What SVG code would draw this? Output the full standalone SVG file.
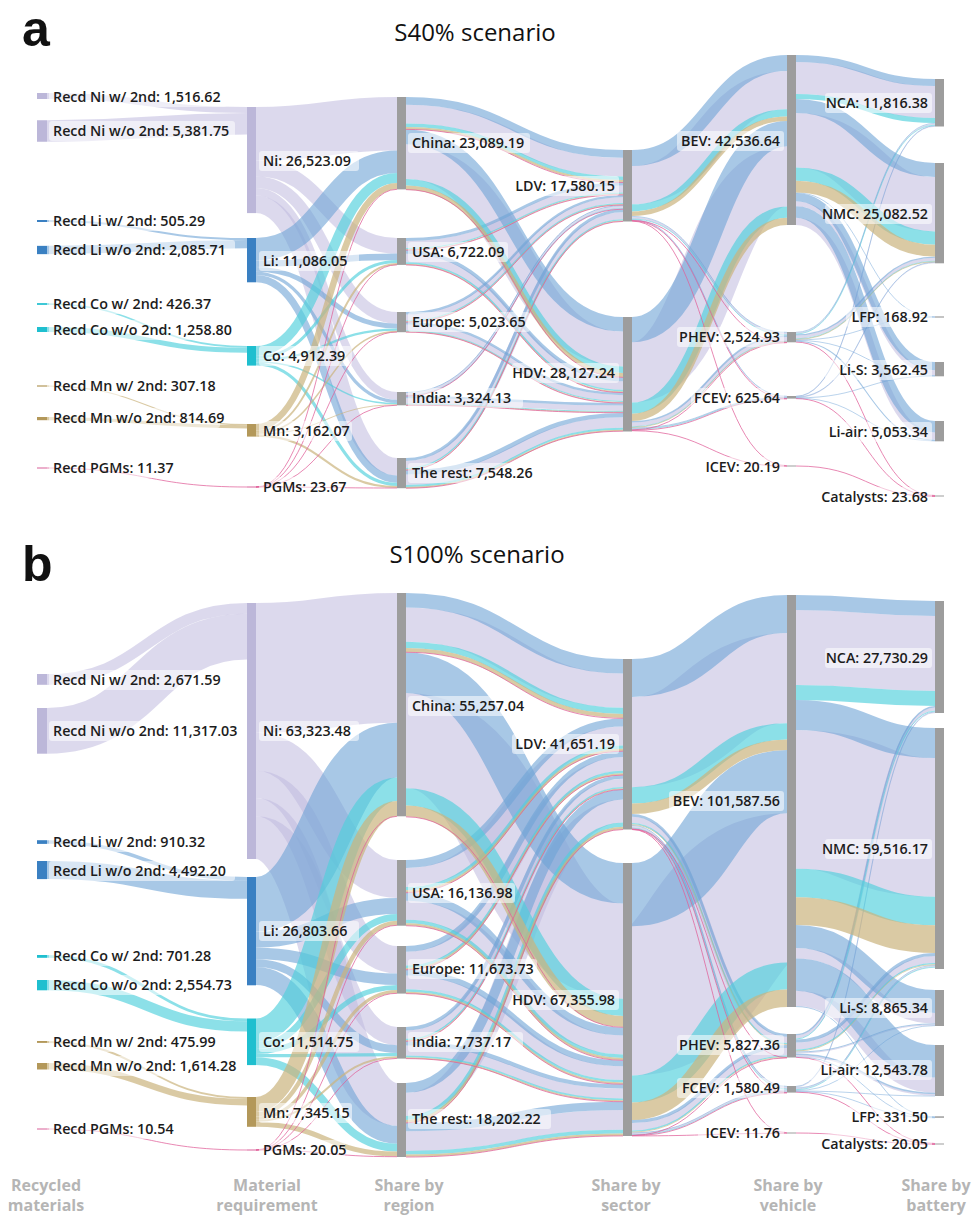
<svg xmlns="http://www.w3.org/2000/svg" width="974" height="1216" viewBox="0 0 974 1216">
<style>
.l path{fill:none}
.ni{stroke:#bfbade;stroke-opacity:.55}
.li{stroke:#6ea3d6;stroke-opacity:.6}
.co{stroke:#4fd0dc;stroke-opacity:.65}
.mn{stroke:#cbb47e;stroke-opacity:.7}
.pg{stroke:#e0609a;stroke-opacity:.75;stroke-width:1}
.t{font-family:"Open Sans","Liberation Sans",sans-serif;font-size:14.3px;font-weight:600;fill:#1c1c1c}
.e{text-anchor:end}
.bx{fill:#fff;fill-opacity:.55}
.g{fill:#9d9d9d}
.nN{fill:#bcb7d9}.nL{fill:#3a80c2}.nC{fill:#1fbfcf}.nM{fill:#b3985a}.nP{fill:#d9609a}
.ax{font-family:"Open Sans","Liberation Sans",sans-serif;font-size:16px;font-weight:700;fill:#b5b5b5;text-anchor:middle}
.pl{font-family:"Liberation Sans",Arial,sans-serif;font-size:50px;font-weight:700;fill:#111}
.ti{font-family:"Open Sans","Liberation Sans",sans-serif;font-size:24px;fill:#111;text-anchor:middle}
</style>
<rect width="974" height="1216" fill="#fff"/>
<g id="titles">
<text class="pl" x="22" y="46">a</text>
<text class="ti" x="475" y="41">S40% scenario</text>
<text class="pl" x="22" y="581">b</text>
<text class="ti" x="477" y="563">S100% scenario</text>
</g>
<g id="connectors" class="l">
<g id="links-a">
<g class="ni">
<path d="M47 96C147 96 147 110 247 110" stroke-width="6"/>
<path d="M47 131C147 131 147 123.8 247 123.8" stroke-width="21.5"/>
<path d="M256 133.8C326.5 133.8 326.5 123.8 397 123.8" stroke-width="53.6"/>
<path d="M256 168.4C326.5 168.4 326.5 245.8 397 245.8" stroke-width="15.6"/>
<path d="M256 182.05C326.5 182.05 326.5 317.85 397 317.85" stroke-width="11.7"/>
<path d="M256 191.75C326.5 191.75 326.5 395.85 397 395.85" stroke-width="7.7"/>
<path d="M256 204.35C326.5 204.35 326.5 466.75 397 466.75" stroke-width="17.5"/>
<path d="M406 114.15C514.5 114.15 514.5 167.15 623 167.15" stroke-width="18.7"/>
<path d="M406 161.65C514.5 161.65 514.5 349.05 623 349.05" stroke-width="34.9"/>
<path d="M406 244.4C514.5 244.4 514.5 189 623 189" stroke-width="7"/>
<path d="M406 258C514.5 258 514.5 385.5 623 385.5" stroke-width="8.6"/>
<path d="M406 317.3C514.5 317.3 514.5 200.2 623 200.2" stroke-width="5.8"/>
<path d="M406 327.4C514.5 327.4 514.5 398.1 623 398.1" stroke-width="5.8"/>
<path d="M406 394.15C514.5 394.15 514.5 207.25 623 207.25" stroke-width="2.3"/>
<path d="M406 401C514.5 401 514.5 408.2 623 408.2" stroke-width="5.4"/>
<path d="M406 464.4C514.5 464.4 514.5 215.7 623 215.7" stroke-width="7"/>
<path d="M406 479.75C514.5 479.75 514.5 422.55 623 422.55" stroke-width="10.5"/>
<path d="M632 185.15C709.5 185.15 709.5 90.15 787 90.15" stroke-width="38.3"/>
<path d="M632 217.75C709.5 217.75 709.5 333.75 787 333.75" stroke-width="1.9"/>
<path d="M632 220.1C709.5 220.1 709.5 396.9 787 396.9" stroke-width=".8"/>
<path d="M632 372.35C709.5 372.35 709.5 176.35 787 176.35" stroke-width="60.3"/>
<path d="M632 424.5C709.5 424.5 709.5 338.9 787 338.9" stroke-width="3.95"/>
<path d="M632 428.6C709.5 428.6 709.5 397.9 787 397.9" stroke-width=".9"/>
<path d="M796 78C865.5 78 865.5 102 935 102" stroke-width="32"/>
<path d="M796 140.2C865.5 140.2 865.5 204.2 935 204.2" stroke-width="54.4"/>
<path d="M796 203.8C865.5 203.8 865.5 372.7 935 372.7" stroke-width="5"/>
<path d="M796 221.3C865.5 221.3 865.5 436 935 436" stroke-width="7.2"/>
<path d="M796 333.2C865.5 333.2 865.5 124.3 935 124.3" stroke-width="1"/>
<path d="M796 337C865.5 337 865.5 259.3 935 259.3" stroke-width="3"/>
<path d="M796 396.6C865.5 396.6 865.5 126.3 935 126.3" stroke-width=".8"/>
<path d="M796 397.5C865.5 397.5 865.5 262.9 935 262.9" stroke-width=".8"/>
</g>
<g class="li">
<path d="M47 221C147 221 147 239 247 239" stroke-width="2"/>
<path d="M47 250C147 250 147 244.2 247 244.2" stroke-width="8.3"/>
<path d="M256 249.2C326.5 249.2 326.5 161.8 397 161.8" stroke-width="22.4"/>
<path d="M256 263.65C326.5 263.65 326.5 256.85 397 256.85" stroke-width="6.5"/>
<path d="M256 269.35C326.5 269.35 326.5 326.15 397 326.15" stroke-width="4.9"/>
<path d="M256 273.4C326.5 273.4 326.5 401.3 397 401.3" stroke-width="3.2"/>
<path d="M256 278.65C326.5 278.65 326.5 479.15 397 479.15" stroke-width="7.3"/>
<path d="M406 100.9C514.5 100.9 514.5 153.9 623 153.9" stroke-width="7.8"/>
<path d="M406 136.9C514.5 136.9 514.5 324.3 623 324.3" stroke-width="14.6"/>
<path d="M406 239.45C514.5 239.45 514.5 184.05 623 184.05" stroke-width="2.9"/>
<path d="M406 251.9C514.5 251.9 514.5 379.4 623 379.4" stroke-width="3.6"/>
<path d="M406 313.2C514.5 313.2 514.5 196.1 623 196.1" stroke-width="2.4"/>
<path d="M406 323.3C514.5 323.3 514.5 394 623 394" stroke-width="2.4"/>
<path d="M406 392.5C514.5 392.5 514.5 205.6 623 205.6" stroke-width="1"/>
<path d="M406 397.15C514.5 397.15 514.5 404.35 623 404.35" stroke-width="2.3"/>
<path d="M406 459.45C514.5 459.45 514.5 210.75 623 210.75" stroke-width="2.9"/>
<path d="M406 472.3C514.5 472.3 514.5 415.1 623 415.1" stroke-width="4.4"/>
<path d="M632 158C709.5 158 709.5 63 787 63" stroke-width="16"/>
<path d="M632 216.4C709.5 216.4 709.5 332.4 787 332.4" stroke-width=".8"/>
<path d="M632 219.6C709.5 219.6 709.5 396.3 787 396.3" stroke-width=".8"/>
<path d="M632 329.6C709.5 329.6 709.5 133.6 787 133.6" stroke-width="25.2"/>
<path d="M632 421.7C709.5 421.7 709.5 336.1 787 336.1" stroke-width="1.65"/>
<path d="M632 427.9C709.5 427.9 709.5 397.4 787 397.4" stroke-width=".8"/>
<path d="M796 58.5C865.5 58.5 865.5 82.5 935 82.5" stroke-width="7"/>
<path d="M796 106C865.5 106 865.5 170 935 170" stroke-width="14"/>
<path d="M796 192.8C865.5 192.8 865.5 316.7 935 316.7" stroke-width=".8"/>
<path d="M796 197.2C865.5 197.2 865.5 366.1 935 366.1" stroke-width="8.2"/>
<path d="M796 212C865.5 212 865.5 426.7 935 426.7" stroke-width="11.4"/>
<path d="M796 332.3C865.5 332.3 865.5 123.3 935 123.3" stroke-width=".8"/>
<path d="M796 334.9C865.5 334.9 865.5 257.15 935 257.15" stroke-width="1.3"/>
<path d="M796 339.9C865.5 339.9 865.5 317.3 935 317.3" stroke-width=".8"/>
<path d="M796 340.4C865.5 340.4 865.5 375.6 935 375.6" stroke-width=".8"/>
<path d="M796 341.3C865.5 341.3 865.5 440.2 935 440.2" stroke-width="1.1"/>
<path d="M796 396.2C865.5 396.2 865.5 125.8 935 125.8" stroke-width=".8"/>
<path d="M796 397C865.5 397 865.5 262.3 935 262.3" stroke-width=".8"/>
<path d="M796 397.9C865.5 397.9 865.5 376.1 935 376.1" stroke-width=".8"/>
<path d="M796 398.2C865.5 398.2 865.5 440.9 935 440.9" stroke-width=".8"/>
</g>
<g class="co">
<path d="M47 304C147 304 147 346.9 247 346.9" stroke-width="1.7"/>
<path d="M47 329.5C147 329.5 147 350.2 247 350.2" stroke-width="5"/>
<path d="M256 350.95C326.5 350.95 326.5 177.95 397 177.95" stroke-width="9.9"/>
<path d="M256 357.35C326.5 357.35 326.5 261.55 397 261.55" stroke-width="2.9"/>
<path d="M256 359.9C326.5 359.9 326.5 329.7 397 329.7" stroke-width="2.2"/>
<path d="M256 361.7C326.5 361.7 326.5 403.6 397 403.6" stroke-width="1.4"/>
<path d="M256 364C326.5 364 326.5 484.4 397 484.4" stroke-width="3.2"/>
<path d="M406 125.25C514.5 125.25 514.5 178.25 623 178.25" stroke-width="3.5"/>
<path d="M406 182.35C514.5 182.35 514.5 369.75 623 369.75" stroke-width="6.5"/>
<path d="M406 248.55C514.5 248.55 514.5 193.15 623 193.15" stroke-width="1.3"/>
<path d="M406 263.1C514.5 263.1 514.5 390.6 623 390.6" stroke-width="1.6"/>
<path d="M406 320.75C514.5 320.75 514.5 203.65 623 203.65" stroke-width="1.1"/>
<path d="M406 330.85C514.5 330.85 514.5 401.55 623 401.55" stroke-width="1.1"/>
<path d="M406 395.5C514.5 395.5 514.5 208.6 623 208.6" stroke-width=".8"/>
<path d="M406 404.2C514.5 404.2 514.5 411.4 623 411.4" stroke-width="1"/>
<path d="M406 468.55C514.5 468.55 514.5 219.85 623 219.85" stroke-width="1.3"/>
<path d="M406 485.95C514.5 485.95 514.5 428.75 623 428.75" stroke-width="1.9"/>
<path d="M632 207.85C709.5 207.85 709.5 112.85 787 112.85" stroke-width="7.1"/>
<path d="M632 219C709.5 219 709.5 335 787 335" stroke-width=".8"/>
<path d="M632 408.1C709.5 408.1 709.5 212.1 787 212.1" stroke-width="11.2"/>
<path d="M632 426.85C709.5 426.85 709.5 341.25 787 341.25" stroke-width=".8"/>
<path d="M632 429.2C709.5 429.2 709.5 398.3 787 398.3" stroke-width=".8"/>
<path d="M796 96.5C865.5 96.5 865.5 120.5 935 120.5" stroke-width="5"/>
<path d="M796 174.05C865.5 174.05 865.5 238.05 935 238.05" stroke-width="13.3"/>
<path d="M796 334C865.5 334 865.5 125.2 935 125.2" stroke-width=".8"/>
<path d="M796 338.85C865.5 338.85 865.5 261.15 935 261.15" stroke-width=".8"/>
</g>
<g class="mn">
<path d="M47 386C147 386 147 424.6 247 424.6" stroke-width="1.2"/>
<path d="M47 418.6C147 418.6 147 426.8 247 426.8" stroke-width="3.2"/>
<path d="M256 427.2C326.5 427.2 326.5 186.1 397 186.1" stroke-width="6.4"/>
<path d="M256 431.35C326.5 431.35 326.5 263.95 397 263.95" stroke-width="1.9"/>
<path d="M256 433C326.5 433 326.5 331.5 397 331.5" stroke-width="1.4"/>
<path d="M256 434.15C326.5 434.15 326.5 404.75 397 404.75" stroke-width=".9"/>
<path d="M256 435.65C326.5 435.65 326.5 487.05 397 487.05" stroke-width="2.1"/>
<path d="M406 128.1C514.5 128.1 514.5 181.1 623 181.1" stroke-width="2.2"/>
<path d="M406 187.7C514.5 187.7 514.5 375.1 623 375.1" stroke-width="4.2"/>
<path d="M406 249.6C514.5 249.6 514.5 194.2 623 194.2" stroke-width=".8"/>
<path d="M406 264.4C514.5 264.4 514.5 391.9 623 391.9" stroke-width="1"/>
<path d="M406 321.65C514.5 321.65 514.5 204.55 623 204.55" stroke-width=".8"/>
<path d="M406 331.75C514.5 331.75 514.5 402.45 623 402.45" stroke-width=".8"/>
<path d="M406 405C514.5 405 514.5 412.2 623 412.2" stroke-width=".8"/>
<path d="M406 469.6C514.5 469.6 514.5 220.9 623 220.9" stroke-width=".8"/>
<path d="M406 487.55C514.5 487.55 514.5 430.35 623 430.35" stroke-width="1.3"/>
<path d="M632 213.7C709.5 213.7 709.5 118.7 787 118.7" stroke-width="4.6"/>
<path d="M632 417.3C709.5 417.3 709.5 221.3 787 221.3" stroke-width="7.2"/>
<path d="M632 427.45C709.5 427.45 709.5 341.85 787 341.85" stroke-width=".8"/>
<path d="M796 186.6C865.5 186.6 865.5 250.6 935 250.6" stroke-width="11.8"/>
<path d="M796 339.45C865.5 339.45 865.5 261.75 935 261.75" stroke-width=".8"/>
</g>
<g class="pg">
<path d="M47 468C147 468 147 487 247 487"/>
<path d="M256 487C326.5 487 326.5 189.3 397 189.3"/>
<path d="M256 487C326.5 487 326.5 264.8 397 264.8"/>
<path d="M256 487C326.5 487 326.5 332 397 332"/>
<path d="M256 487C326.5 487 326.5 405.2 397 405.2"/>
<path d="M256 487C326.5 487 326.5 488 397 488"/>
<path d="M406 129.4C514.5 129.4 514.5 182.5 623 182.5"/>
<path d="M406 189.6C514.5 189.6 514.5 377.4 623 377.4"/>
<path d="M406 250.1C514.5 250.1 514.5 194.8 623 194.8"/>
<path d="M406 264.9C514.5 264.9 514.5 392.6 623 392.6"/>
<path d="M406 322.1C514.5 322.1 514.5 205 623 205"/>
<path d="M406 332.1C514.5 332.1 514.5 403 623 403"/>
<path d="M406 396C514.5 396 514.5 209.2 623 209.2"/>
<path d="M406 405.3C514.5 405.3 514.5 412.7 623 412.7"/>
<path d="M406 470.1C514.5 470.1 514.5 221.4 623 221.4"/>
<path d="M406 488.2C514.5 488.2 514.5 431.2 623 431.2"/>
<path d="M632 220.5C709.5 220.5 709.5 342.4 787 342.4"/>
<path d="M632 220.8C709.5 220.8 709.5 398.6 787 398.6"/>
<path d="M632 221.1C709.5 221.1 709.5 465.7 787 465.7"/>
<path d="M632 429.9C709.5 429.9 709.5 342.6 787 342.6"/>
<path d="M632 430.3C709.5 430.3 709.5 398.9 787 398.9"/>
<path d="M632 430.7C709.5 430.7 709.5 466.3 787 466.3"/>
<path d="M796 342.1C865.5 342.1 865.5 495.5 935 495.5"/>
<path d="M796 398.6C865.5 398.6 865.5 496 935 496"/>
<path d="M796 466C865.5 466 865.5 496.5 935 496.5"/>
</g>
</g>
<g id="links-b">
<g class="ni">
<path d="M47 679.5C147 679.5 147 608.4 247 608.4" stroke-width="10.8"/>
<path d="M47 730.85C147 730.85 147 636.65 247 636.65" stroke-width="45.7"/>
<path d="M256 667.9C326.5 667.9 326.5 657.9 397 657.9" stroke-width="129.8"/>
<path d="M256 751.75C326.5 751.75 326.5 878.95 397 878.95" stroke-width="37.9"/>
<path d="M256 784.4C326.5 784.4 326.5 959.7 397 959.7" stroke-width="27.4"/>
<path d="M256 807.2C326.5 807.2 326.5 1036.1 397 1036.1" stroke-width="18.2"/>
<path d="M256 837.7C326.5 837.7 326.5 1104.4 397 1104.4" stroke-width="42.8"/>
<path d="M406 624.65C514.5 624.65 514.5 690.65 623 690.65" stroke-width="34.3"/>
<path d="M406 740.55C514.5 740.55 514.5 951.05 623 951.05" stroke-width="95.3"/>
<path d="M406 877.45C514.5 877.45 514.5 735.95 623 735.95" stroke-width="18.9"/>
<path d="M406 910.3C514.5 910.3 514.5 1044.9 623 1044.9" stroke-width="19"/>
<path d="M406 958.65C514.5 958.65 514.5 763.95 623 763.95" stroke-width="13.7"/>
<path d="M406 982.45C514.5 982.45 514.5 1073.05 623 1073.05" stroke-width="13.7"/>
<path d="M406 1034.6C514.5 1034.6 514.5 782.8 623 782.8" stroke-width="8.2"/>
<path d="M406 1050.5C514.5 1050.5 514.5 1093.5 623 1093.5" stroke-width="10"/>
<path d="M406 1104.35C514.5 1104.35 514.5 810.95 623 810.95" stroke-width="23.1"/>
<path d="M406 1141.05C514.5 1141.05 514.5 1119.95 623 1119.95" stroke-width="19.7"/>
<path d="M632 742.15C709.5 742.15 709.5 678.15 787 678.15" stroke-width="90.1"/>
<path d="M632 819.9C709.5 819.9 709.5 1039.9 787 1039.9" stroke-width="6.4"/>
<path d="M632 826.9C709.5 826.9 709.5 1087.9 787 1087.9" stroke-width="2"/>
<path d="M632 1000.85C709.5 1000.85 709.5 887.85 787 887.85" stroke-width="149.3"/>
<path d="M632 1126.75C709.5 1126.75 709.5 1051.75 787 1051.75" stroke-width="7.3"/>
<path d="M632 1133.75C709.5 1133.75 709.5 1091.1 787 1091.1" stroke-width="1.7"/>
<path d="M796 647.5C865.5 647.5 865.5 653.5 935 653.5" stroke-width="75"/>
<path d="M796 799.35C865.5 799.35 865.5 827.35 935 827.35" stroke-width="138.7"/>
<path d="M796 953.2C865.5 953.2 865.5 1018.2 935 1018.2" stroke-width="10.4"/>
<path d="M796 998.45C865.5 998.45 865.5 1085.05 935 1085.05" stroke-width="15.3"/>
<path d="M796 1037C865.5 1037 865.5 709 935 709" stroke-width="3.2"/>
<path d="M796 1046C865.5 1046 865.5 959.5 935 959.5" stroke-width="7"/>
<path d="M796 1053C865.5 1053 865.5 1024.9 935 1024.9" stroke-width="1"/>
<path d="M796 1055.75C865.5 1055.75 865.5 1094.95 935 1094.95" stroke-width="1.5"/>
<path d="M796 1087.1C865.5 1087.1 865.5 712.6 935 712.6" stroke-width=".8"/>
<path d="M796 1088.8C865.5 1088.8 865.5 966.5 935 966.5" stroke-width="1.2"/>
</g>
<g class="li">
<path d="M47 842C147 842 147 878.85 247 878.85" stroke-width="3.7"/>
<path d="M47 870C147 870 147 889.75 247 889.75" stroke-width="18.1"/>
<path d="M256 904.35C326.5 904.35 326.5 750.15 397 750.15" stroke-width="54.7"/>
<path d="M256 939.7C326.5 939.7 326.5 905.9 397 905.9" stroke-width="16"/>
<path d="M256 953.5C326.5 953.5 326.5 979.2 397 979.2" stroke-width="11.6"/>
<path d="M256 963.15C326.5 963.15 326.5 1049.05 397 1049.05" stroke-width="7.7"/>
<path d="M256 976C326.5 976 326.5 1134.8 397 1134.8" stroke-width="18"/>
<path d="M406 600.25C514.5 600.25 514.5 666.25 623 666.25" stroke-width="14.5"/>
<path d="M406 672.7C514.5 672.7 514.5 883.2 623 883.2" stroke-width="40.4"/>
<path d="M406 864C514.5 864 514.5 722.5 623 722.5" stroke-width="8"/>
<path d="M406 896.8C514.5 896.8 514.5 1031.4 623 1031.4" stroke-width="8"/>
<path d="M406 948.9C514.5 948.9 514.5 754.2 623 754.2" stroke-width="5.8"/>
<path d="M406 972.7C514.5 972.7 514.5 1063.3 623 1063.3" stroke-width="5.8"/>
<path d="M406 1028.75C514.5 1028.75 514.5 776.95 623 776.95" stroke-width="3.5"/>
<path d="M406 1043.4C514.5 1043.4 514.5 1086.4 623 1086.4" stroke-width="4.2"/>
<path d="M406 1087.9C514.5 1087.9 514.5 794.5 623 794.5" stroke-width="9.8"/>
<path d="M406 1127.05C514.5 1127.05 514.5 1105.95 623 1105.95" stroke-width="8.3"/>
<path d="M632 678.05C709.5 678.05 709.5 614.05 787 614.05" stroke-width="38.1"/>
<path d="M632 815.35C709.5 815.35 709.5 1035.35 787 1035.35" stroke-width="2.7"/>
<path d="M632 825.45C709.5 825.45 709.5 1086.45 787 1086.45" stroke-width=".9"/>
<path d="M632 894.6C709.5 894.6 709.5 781.6 787 781.6" stroke-width="63.2"/>
<path d="M632 1121.55C709.5 1121.55 709.5 1046.55 787 1046.55" stroke-width="3.1"/>
<path d="M632 1132.85C709.5 1132.85 709.5 1089.9 787 1089.9" stroke-width=".8"/>
<path d="M796 602.5C865.5 602.5 865.5 608.5 935 608.5" stroke-width="15"/>
<path d="M796 715C865.5 715 865.5 743 935 743" stroke-width="30"/>
<path d="M796 936.5C865.5 936.5 865.5 1001.5 935 1001.5" stroke-width="23"/>
<path d="M796 974.6C865.5 974.6 865.5 1061.2 935 1061.2" stroke-width="32.4"/>
<path d="M796 1006.55C865.5 1006.55 865.5 1116.8 935 1116.8" stroke-width=".9"/>
<path d="M796 1034.7C865.5 1034.7 865.5 706.7 935 706.7" stroke-width="1.4"/>
<path d="M796 1041C865.5 1041 865.5 954.5 935 954.5" stroke-width="3"/>
<path d="M796 1052C865.5 1052 865.5 1023.9 935 1023.9" stroke-width="1"/>
<path d="M796 1054.25C865.5 1054.25 865.5 1093.45 935 1093.45" stroke-width="1.5"/>
<path d="M796 1056.8C865.5 1056.8 865.5 1117.4 935 1117.4" stroke-width=".8"/>
<path d="M796 1086.4C865.5 1086.4 865.5 711.9 935 711.9" stroke-width=".8"/>
<path d="M796 1087.9C865.5 1087.9 865.5 965.5 935 965.5" stroke-width=".8"/>
<path d="M796 1090.5C865.5 1090.5 865.5 1025.6 935 1025.6" stroke-width=".8"/>
<path d="M796 1091.1C865.5 1091.1 865.5 1096 935 1096" stroke-width=".8"/>
<path d="M796 1091.6C865.5 1091.6 865.5 1117.8 935 1117.8" stroke-width=".8"/>
</g>
<g class="co">
<path d="M47 956.4C147 956.4 147 1019.9 247 1019.9" stroke-width="2.8"/>
<path d="M47 985.15C147 985.15 147 1026.45 247 1026.45" stroke-width="10.3"/>
<path d="M256 1030.3C326.5 1030.3 326.5 789.3 397 789.3" stroke-width="23.6"/>
<path d="M256 1045.55C326.5 1045.55 326.5 917.35 397 917.35" stroke-width="6.9"/>
<path d="M256 1051.5C326.5 1051.5 326.5 987.5 397 987.5" stroke-width="5"/>
<path d="M256 1055.65C326.5 1055.65 326.5 1054.55 397 1054.55" stroke-width="3.3"/>
<path d="M256 1061.2C326.5 1061.2 326.5 1147.7 397 1147.7" stroke-width="7.8"/>
<path d="M406 644.9C514.5 644.9 514.5 710.9 623 710.9" stroke-width="6.2"/>
<path d="M406 796.85C514.5 796.85 514.5 1007.35 623 1007.35" stroke-width="17.3"/>
<path d="M406 888.6C514.5 888.6 514.5 747.1 623 747.1" stroke-width="3.4"/>
<path d="M406 921.55C514.5 921.55 514.5 1056.15 623 1056.15" stroke-width="3.5"/>
<path d="M406 966.75C514.5 966.75 514.5 772.05 623 772.05" stroke-width="2.5"/>
<path d="M406 990.55C514.5 990.55 514.5 1081.15 623 1081.15" stroke-width="2.5"/>
<path d="M406 1039.45C514.5 1039.45 514.5 787.65 623 787.65" stroke-width="1.5"/>
<path d="M406 1056.4C514.5 1056.4 514.5 1099.4 623 1099.4" stroke-width="1.8"/>
<path d="M406 1118C514.5 1118 514.5 824.6 623 824.6" stroke-width="4.2"/>
<path d="M406 1152.7C514.5 1152.7 514.5 1131.6 623 1131.6" stroke-width="3.6"/>
<path d="M632 795.4C709.5 795.4 709.5 731.4 787 731.4" stroke-width="16.4"/>
<path d="M632 823.7C709.5 823.7 709.5 1043.7 787 1043.7" stroke-width="1.2"/>
<path d="M632 828.1C709.5 828.1 709.5 1089.1 787 1089.1" stroke-width=".8"/>
<path d="M632 1089.05C709.5 1089.05 709.5 976.05 787 976.05" stroke-width="27.1"/>
<path d="M632 1131.05C709.5 1131.05 709.5 1056.05 787 1056.05" stroke-width="1.3"/>
<path d="M632 1134.75C709.5 1134.75 709.5 1092.1 787 1092.1" stroke-width=".8"/>
<path d="M796 692.5C865.5 692.5 865.5 698.5 935 698.5" stroke-width="15"/>
<path d="M796 882.95C865.5 882.95 865.5 910.95 935 910.95" stroke-width="28.5"/>
<path d="M796 1039.05C865.5 1039.05 865.5 711.05 935 711.05" stroke-width=".9"/>
<path d="M796 1050.1C865.5 1050.1 865.5 963.6 935 963.6" stroke-width="1.2"/>
<path d="M796 1089.6C865.5 1089.6 865.5 967.3 935 967.3" stroke-width=".8"/>
</g>
<g class="mn">
<path d="M47 1042C147 1042 147 1097.95 247 1097.95" stroke-width="1.9"/>
<path d="M47 1066.25C147 1066.25 147 1102.15 247 1102.15" stroke-width="6.5"/>
<path d="M256 1104.55C326.5 1104.55 326.5 808.65 397 808.65" stroke-width="15.1"/>
<path d="M256 1114.3C326.5 1114.3 326.5 923 397 923" stroke-width="4.4"/>
<path d="M256 1118.1C326.5 1118.1 326.5 991.6 397 991.6" stroke-width="3.2"/>
<path d="M256 1120.75C326.5 1120.75 326.5 1057.25 397 1057.25" stroke-width="2.1"/>
<path d="M256 1124.3C326.5 1124.3 326.5 1154.1 397 1154.1" stroke-width="5"/>
<path d="M406 650C514.5 650 514.5 716 623 716" stroke-width="4"/>
<path d="M406 811.05C514.5 811.05 514.5 1021.55 623 1021.55" stroke-width="11.1"/>
<path d="M406 891.4C514.5 891.4 514.5 749.9 623 749.9" stroke-width="2.2"/>
<path d="M406 924.4C514.5 924.4 514.5 1059 623 1059" stroke-width="2.2"/>
<path d="M406 968.8C514.5 968.8 514.5 774.1 623 774.1" stroke-width="1.6"/>
<path d="M406 992.6C514.5 992.6 514.5 1083.2 623 1083.2" stroke-width="1.6"/>
<path d="M406 1040.65C514.5 1040.65 514.5 788.85 623 788.85" stroke-width=".9"/>
<path d="M406 1057.9C514.5 1057.9 514.5 1100.9 623 1100.9" stroke-width="1.2"/>
<path d="M406 1121.4C514.5 1121.4 514.5 828 623 828" stroke-width="2.6"/>
<path d="M406 1155.65C514.5 1155.65 514.5 1134.55 623 1134.55" stroke-width="2.3"/>
<path d="M632 808.8C709.5 808.8 709.5 744.8 787 744.8" stroke-width="10.4"/>
<path d="M632 824.65C709.5 824.65 709.5 1044.65 787 1044.65" stroke-width=".8"/>
<path d="M632 1111.3C709.5 1111.3 709.5 998.3 787 998.3" stroke-width="17.4"/>
<path d="M632 1132.1C709.5 1132.1 709.5 1057.1 787 1057.1" stroke-width=".8"/>
<path d="M796 911.1C865.5 911.1 865.5 939.1 935 939.1" stroke-width="27.8"/>
<path d="M796 1051.1C865.5 1051.1 865.5 964.6 935 964.6" stroke-width=".8"/>
</g>
<g class="pg">
<path d="M47 1129C147 1129 147 1150 247 1150"/>
<path d="M256 1150C326.5 1150 326.5 816.3 397 816.3"/>
<path d="M256 1150C326.5 1150 326.5 925.3 397 925.3"/>
<path d="M256 1150C326.5 1150 326.5 993.3 397 993.3"/>
<path d="M256 1150C326.5 1150 326.5 1058.4 397 1058.4"/>
<path d="M256 1150C326.5 1150 326.5 1156.7 397 1156.7"/>
<path d="M406 652.3C514.5 652.3 514.5 718.3 623 718.3"/>
<path d="M406 816.8C514.5 816.8 514.5 1027.3 623 1027.3"/>
<path d="M406 892.7C514.5 892.7 514.5 751.2 623 751.2"/>
<path d="M406 925.7C514.5 925.7 514.5 1060.3 623 1060.3"/>
<path d="M406 969.8C514.5 969.8 514.5 775.1 623 775.1"/>
<path d="M406 993.6C514.5 993.6 514.5 1084.2 623 1084.2"/>
<path d="M406 1041.3C514.5 1041.3 514.5 789.5 623 789.5"/>
<path d="M406 1058.6C514.5 1058.6 514.5 1101.7 623 1101.7"/>
<path d="M406 1122.9C514.5 1122.9 514.5 829.5 623 829.5"/>
<path d="M406 1157C514.5 1157 514.5 1135.9 623 1135.9"/>
<path d="M632 828.9C709.5 828.9 709.5 1057.6 787 1057.6"/>
<path d="M632 829.2C709.5 829.2 709.5 1092.6 787 1092.6"/>
<path d="M632 829.5C709.5 829.5 709.5 1132.7 787 1132.7"/>
<path d="M632 1135.3C709.5 1135.3 709.5 1057.9 787 1057.9"/>
<path d="M632 1135.6C709.5 1135.6 709.5 1092.9 787 1092.9"/>
<path d="M632 1135.9C709.5 1135.9 709.5 1133.3 787 1133.3"/>
<path d="M796 1057.3C865.5 1057.3 865.5 1143.5 935 1143.5"/>
<path d="M796 1092.2C865.5 1092.2 865.5 1144 935 1144"/>
<path d="M796 1133C865.5 1133 865.5 1144.5 935 1144.5"/>
</g>
</g>
</g>
<g id="nodes-a">
<g id="a-recd-ni-w2"><rect class="nN" x="37" y="93" width="10" height="6"/><rect class="bx" x="49" y="87" width="178" height="20" rx="3"/><text class="t" x="53" y="102">Recd Ni w/ 2nd: 1,516.62</text></g>
<g id="a-recd-ni-wo"><rect class="nN" x="37" y="120.25" width="10" height="21.5"/><rect class="bx" x="49" y="121" width="186" height="20" rx="3"/><text class="t" x="53" y="136">Recd Ni w/o 2nd: 5,381.75</text></g>
<g id="a-recd-li-w2"><rect class="nL" x="37" y="220" width="10" height="2"/><rect class="bx" x="49" y="211" width="164" height="20" rx="3"/><text class="t" x="53" y="226">Recd Li w/ 2nd: 505.29</text></g>
<g id="a-recd-li-wo"><rect class="nL" x="37" y="245.85" width="10" height="8.3"/><rect class="bx" x="49" y="240" width="186" height="20" rx="3"/><text class="t" x="53" y="255">Recd Li w/o 2nd: 2,085.71</text></g>
<g id="a-recd-co-w2"><rect class="nC" x="37" y="303.15" width="10" height="1.7"/><rect class="bx" x="49" y="294" width="164" height="20" rx="3"/><text class="t" x="53" y="309">Recd Co w/ 2nd: 426.37</text></g>
<g id="a-recd-co-wo"><rect class="nC" x="37" y="327" width="10" height="5"/><rect class="bx" x="49" y="320" width="186" height="20" rx="3"/><text class="t" x="53" y="335">Recd Co w/o 2nd: 1,258.80</text></g>
<g id="a-recd-mn-w2"><rect class="nM" x="37" y="385.4" width="10" height="1.2"/><rect class="bx" x="49" y="376" width="164" height="20" rx="3"/><text class="t" x="53" y="391">Recd Mn w/ 2nd: 307.18</text></g>
<g id="a-recd-mn-wo"><rect class="nM" x="37" y="417" width="10" height="3.2"/><rect class="bx" x="49" y="408" width="171" height="20" rx="3"/><text class="t" x="53" y="423">Recd Mn w/o 2nd: 814.69</text></g>
<g id="a-recd-pgm"><rect class="nP" x="37" y="467.5" width="10" height="1"/><rect class="bx" x="49" y="458" width="122" height="20" rx="3"/><text class="t" x="53" y="473">Recd PGMs: 11.37</text></g>
<g id="a-ni"><rect class="nN" x="247" y="107" width="9" height="106.1"/><rect class="bx" x="259" y="151" width="100" height="20" rx="3"/><text class="t" x="263" y="166">Ni: 26,523.09</text></g>
<g id="a-li"><rect class="nL" x="247" y="238" width="9" height="44.3"/><rect class="bx" x="259" y="251" width="100" height="20" rx="3"/><text class="t" x="263" y="266">Li: 11,086.05</text></g>
<g id="a-co"><rect class="nC" x="247" y="346" width="9" height="19.6"/><rect class="bx" x="259" y="346" width="93" height="20" rx="3"/><text class="t" x="263" y="361">Co: 4,912.39</text></g>
<g id="a-mn"><rect class="nM" x="247" y="424" width="9" height="12.6"/><rect class="bx" x="259" y="421" width="93" height="20" rx="3"/><text class="t" x="263" y="436">Mn: 3,162.07</text></g>
<g id="a-pgm"><rect class="nP" x="247" y="486.5" width="9" height="1"/><rect class="bx" x="259" y="477" width="86" height="20" rx="3"/><text class="t" x="263" y="492">PGMs: 23.67</text></g>
<g id="a-china"><rect class="g" x="397" y="97" width="9" height="92.4"/><rect class="bx" x="408" y="133" width="122" height="20" rx="3"/><text class="t" x="412" y="148">China: 23,089.19</text></g>
<g id="a-usa"><rect class="g" x="397" y="238" width="9" height="26.9"/><rect class="bx" x="408" y="242" width="100" height="20" rx="3"/><text class="t" x="412" y="257">USA: 6,722.09</text></g>
<g id="a-europe"><rect class="g" x="397" y="312" width="9" height="20.2"/><rect class="bx" x="408" y="312" width="122" height="20" rx="3"/><text class="t" x="412" y="327">Europe: 5,023.65</text></g>
<g id="a-india"><rect class="g" x="397" y="392" width="9" height="13.3"/><rect class="bx" x="408" y="388" width="115" height="20" rx="3"/><text class="t" x="412" y="403">India: 3,324.13</text></g>
<g id="a-rest"><rect class="g" x="397" y="458" width="9" height="30.2"/><rect class="bx" x="408" y="463" width="136" height="20" rx="3"/><text class="t" x="412" y="478">The rest: 7,548.26</text></g>
<g id="a-ldv"><rect class="g" x="623" y="150" width="9" height="71.5"/><rect class="bx" x="512" y="176" width="107" height="20" rx="3"/><text class="t e" x="615" y="191">LDV: 17,580.15</text></g>
<g id="a-hdv"><rect class="g" x="623" y="317" width="9" height="114.5"/><rect class="bx" x="512" y="363" width="107" height="20" rx="3"/><text class="t e" x="615" y="378">HDV: 28,127.24</text></g>
<g id="a-bev"><rect class="g" x="787" y="55" width="9" height="170"/><rect class="bx" x="677" y="131" width="107" height="20" rx="3"/><text class="t e" x="780" y="146">BEV: 42,536.64</text></g>
<g id="a-phev"><rect class="g" x="787" y="332" width="9" height="10.3"/><rect class="bx" x="677" y="327" width="107" height="20" rx="3"/><text class="t e" x="780" y="342">PHEV: 2,524.93</text></g>
<g id="a-fcev"><rect class="g" x="787" y="396" width="9" height="2.6"/><rect class="bx" x="691" y="388" width="93" height="20" rx="3"/><text class="t e" x="780" y="403">FCEV: 625.64</text></g>
<g id="a-icev"><rect class="g" x="787" y="465.5" width="9" height="1"/><rect class="bx" x="698" y="457" width="86" height="20" rx="3"/><text class="t e" x="780" y="472">ICEV: 20.19</text></g>
<g id="a-nca"><rect class="g" x="935" y="79" width="9" height="47.5"/><rect class="bx" x="825" y="93" width="107" height="20" rx="3"/><text class="t e" x="928" y="108">NCA: 11,816.38</text></g>
<g id="a-nmc"><rect class="g" x="935" y="163" width="9" height="100.3"/><rect class="bx" x="825" y="204" width="107" height="20" rx="3"/><text class="t e" x="928" y="219">NMC: 25,082.52</text></g>
<g id="a-lfp"><rect class="g" x="935" y="316.4" width="9" height="1.2"/><rect class="bx" x="846" y="307" width="86" height="20" rx="3"/><text class="t e" x="928" y="322">LFP: 168.92</text></g>
<g id="a-lis"><rect class="g" x="935" y="362" width="9" height="14.3"/><rect class="bx" x="825" y="360" width="107" height="20" rx="3"/><text class="t e" x="928" y="375">Li-S: 3,562.45</text></g>
<g id="a-liair"><rect class="g" x="935" y="421" width="9" height="20.3"/><rect class="bx" x="810" y="422" width="122" height="20" rx="3"/><text class="t e" x="928" y="437">Li-air: 5,053.34</text></g>
<g id="a-cat"><rect class="g" x="935" y="495.5" width="9" height="1"/><rect class="bx" x="810" y="487" width="122" height="20" rx="3"/><text class="t e" x="928" y="502">Catalysts: 23.68</text></g>
</g>
<g id="nodes-b">
<g id="b-recd-ni-w2"><rect class="nN" x="37" y="674" width="10" height="10.8"/><rect class="bx" x="49" y="670" width="178" height="20" rx="3"/><text class="t" x="53" y="685">Recd Ni w/ 2nd: 2,671.59</text></g>
<g id="b-recd-ni-wo"><rect class="nN" x="37" y="708" width="10" height="45.7"/><rect class="bx" x="49" y="721" width="193" height="20" rx="3"/><text class="t" x="53" y="736">Recd Ni w/o 2nd: 11,317.03</text></g>
<g id="b-recd-li-w2"><rect class="nL" x="37" y="840.2" width="10" height="3.7"/><rect class="bx" x="49" y="832" width="164" height="20" rx="3"/><text class="t" x="53" y="847">Recd Li w/ 2nd: 910.32</text></g>
<g id="b-recd-li-wo"><rect class="nL" x="37" y="861" width="10" height="18.1"/><rect class="bx" x="49" y="861" width="186" height="20" rx="3"/><text class="t" x="53" y="876">Recd Li w/o 2nd: 4,492.20</text></g>
<g id="b-recd-co-w2"><rect class="nC" x="37" y="955" width="10" height="2.8"/><rect class="bx" x="49" y="946" width="164" height="20" rx="3"/><text class="t" x="53" y="961">Recd Co w/ 2nd: 701.28</text></g>
<g id="b-recd-co-wo"><rect class="nC" x="37" y="980" width="10" height="10.3"/><rect class="bx" x="49" y="975" width="186" height="20" rx="3"/><text class="t" x="53" y="990">Recd Co w/o 2nd: 2,554.73</text></g>
<g id="b-recd-mn-w2"><rect class="nM" x="37" y="1041" width="10" height="1.9"/><rect class="bx" x="49" y="1032" width="164" height="20" rx="3"/><text class="t" x="53" y="1047">Recd Mn w/ 2nd: 475.99</text></g>
<g id="b-recd-mn-wo"><rect class="nM" x="37" y="1063" width="10" height="6.5"/><rect class="bx" x="49" y="1056" width="186" height="20" rx="3"/><text class="t" x="53" y="1071">Recd Mn w/o 2nd: 1,614.28</text></g>
<g id="b-recd-pgm"><rect class="nP" x="37" y="1128.5" width="10" height="1"/><rect class="bx" x="49" y="1119" width="122" height="20" rx="3"/><text class="t" x="53" y="1134">Recd PGMs: 10.54</text></g>
<g id="b-ni"><rect class="nN" x="247" y="603" width="9" height="256"/><rect class="bx" x="259" y="721" width="100" height="20" rx="3"/><text class="t" x="263" y="736">Ni: 63,323.48</text></g>
<g id="b-li"><rect class="nL" x="247" y="877" width="9" height="108.3"/><rect class="bx" x="259" y="921" width="100" height="20" rx="3"/><text class="t" x="263" y="936">Li: 26,803.66</text></g>
<g id="b-co"><rect class="nC" x="247" y="1018.5" width="9" height="46.6"/><rect class="bx" x="259" y="1032" width="100" height="20" rx="3"/><text class="t" x="263" y="1047">Co: 11,514.75</text></g>
<g id="b-mn"><rect class="nM" x="247" y="1097" width="9" height="29.8"/><rect class="bx" x="259" y="1103" width="93" height="20" rx="3"/><text class="t" x="263" y="1118">Mn: 7,345.15</text></g>
<g id="b-pgm"><rect class="nP" x="247" y="1149.5" width="9" height="1"/><rect class="bx" x="259" y="1140" width="86" height="20" rx="3"/><text class="t" x="263" y="1155">PGMs: 20.05</text></g>
<g id="b-china"><rect class="g" x="397" y="593" width="9" height="223.3"/><rect class="bx" x="408" y="696" width="122" height="20" rx="3"/><text class="t" x="412" y="711">China: 55,257.04</text></g>
<g id="b-usa"><rect class="g" x="397" y="860" width="9" height="65.7"/><rect class="bx" x="408" y="883" width="107" height="20" rx="3"/><text class="t" x="412" y="898">USA: 16,136.98</text></g>
<g id="b-europe"><rect class="g" x="397" y="946" width="9" height="47.6"/><rect class="bx" x="408" y="959" width="129" height="20" rx="3"/><text class="t" x="412" y="974">Europe: 11,673.73</text></g>
<g id="b-india"><rect class="g" x="397" y="1027" width="9" height="31.6"/><rect class="bx" x="408" y="1032" width="115" height="20" rx="3"/><text class="t" x="412" y="1047">India: 7,737.17</text></g>
<g id="b-rest"><rect class="g" x="397" y="1083" width="9" height="74"/><rect class="bx" x="408" y="1109" width="143" height="20" rx="3"/><text class="t" x="412" y="1124">The rest: 18,202.22</text></g>
<g id="b-ldv"><rect class="g" x="623" y="659" width="9" height="170.5"/><rect class="bx" x="512" y="734" width="107" height="20" rx="3"/><text class="t e" x="615" y="749">LDV: 41,651.19</text></g>
<g id="b-hdv"><rect class="g" x="623" y="863" width="9" height="273"/><rect class="bx" x="512" y="990" width="107" height="20" rx="3"/><text class="t e" x="615" y="1005">HDV: 67,355.98</text></g>
<g id="b-bev"><rect class="g" x="787" y="595" width="9" height="412"/><rect class="bx" x="669" y="791" width="115" height="20" rx="3"/><text class="t e" x="780" y="806">BEV: 101,587.56</text></g>
<g id="b-phev"><rect class="g" x="787" y="1034" width="9" height="23.5"/><rect class="bx" x="677" y="1035" width="107" height="20" rx="3"/><text class="t e" x="780" y="1050">PHEV: 5,827.36</text></g>
<g id="b-fcev"><rect class="g" x="787" y="1086" width="9" height="6.6"/><rect class="bx" x="677" y="1078" width="107" height="20" rx="3"/><text class="t e" x="780" y="1093">FCEV: 1,580.49</text></g>
<g id="b-icev"><rect class="g" x="787" y="1132.5" width="9" height="1"/><rect class="bx" x="698" y="1123" width="86" height="20" rx="3"/><text class="t e" x="780" y="1138">ICEV: 11.76</text></g>
<g id="b-nca"><rect class="g" x="935" y="601" width="9" height="112"/><rect class="bx" x="825" y="648" width="107" height="20" rx="3"/><text class="t e" x="928" y="663">NCA: 27,730.29</text></g>
<g id="b-nmc"><rect class="g" x="935" y="728" width="9" height="241"/><rect class="bx" x="825" y="839" width="107" height="20" rx="3"/><text class="t e" x="928" y="854">NMC: 59,516.17</text></g>
<g id="b-lis"><rect class="g" x="935" y="990" width="9" height="36"/><rect class="bx" x="825" y="998" width="107" height="20" rx="3"/><text class="t e" x="928" y="1013">Li-S: 8,865.34</text></g>
<g id="b-liair"><rect class="g" x="935" y="1045" width="9" height="51"/><rect class="bx" x="803" y="1060" width="129" height="20" rx="3"/><text class="t e" x="928" y="1075">Li-air: 12,543.78</text></g>
<g id="b-lfp"><rect class="g" x="935" y="1116.3" width="9" height="1.5"/><rect class="bx" x="846" y="1107" width="86" height="20" rx="3"/><text class="t e" x="928" y="1122">LFP: 331.50</text></g>
<g id="b-cat"><rect class="g" x="935" y="1143.5" width="9" height="1"/><rect class="bx" x="810" y="1134" width="122" height="20" rx="3"/><text class="t e" x="928" y="1149">Catalysts: 20.05</text></g>
</g>
<g id="axis-labels">
<text class="ax" x="46" y="1191">Recycled</text><text class="ax" x="46" y="1211">materials</text>
<text class="ax" x="267" y="1191">Material</text><text class="ax" x="267" y="1211">requirement</text>
<text class="ax" x="409" y="1191">Share by</text><text class="ax" x="409" y="1211">region</text>
<text class="ax" x="626" y="1191">Share by</text><text class="ax" x="626" y="1211">sector</text>
<text class="ax" x="788" y="1191">Share by</text><text class="ax" x="788" y="1211">vehicle</text>
<text class="ax" x="936" y="1191">Share by</text><text class="ax" x="936" y="1211">battery</text>
</g>
</svg>
